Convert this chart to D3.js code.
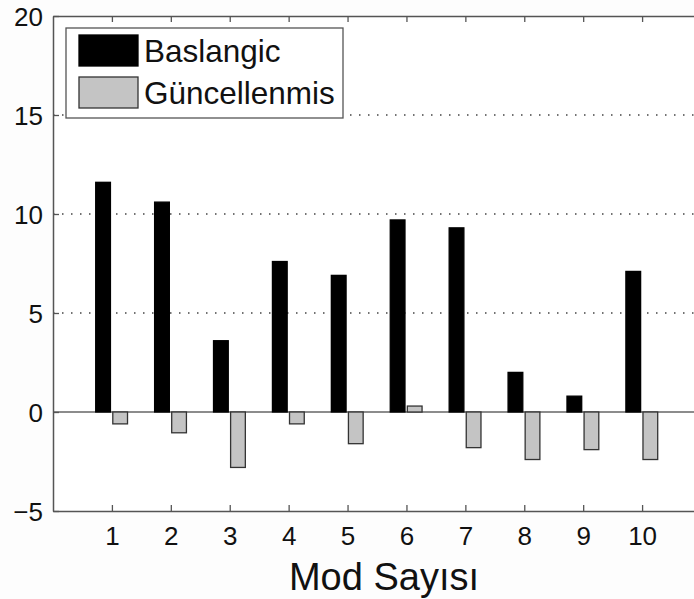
<!DOCTYPE html>
<html>
<head>
<meta charset="utf-8">
<script src="https://cdn.jsdelivr.net/npm/d3@7"></script>
<style>
  body { margin: 0; background: #fdfdfd; }
  text { font-family: "Liberation Sans", Arial, sans-serif; fill: #111; }
</style>
</head>
<body>
<script>
const modes = [1, 2, 3, 4, 5, 6, 7, 8, 9, 10]
const baslangic = [11.6, 10.6, 3.6, 7.6, 6.9, 9.7, 9.3, 2.0, 0.8, 7.1]
const guncellenmis = [-0.6, -1.05, -2.8, -0.6, -1.6, 0.3, -1.8, -2.4, -1.9, -2.4]
const yTicks = [-5, 0, 5, 10, 15, 20]
const gridTicks = [5, 10, 15]
const seriesNames = ["Baslangic", "Güncellenmis"]

const WIDTH = 694
const HEIGHT = 599
const AXIS = "#555"

const svg = d3.select("body")
    .append("svg")
    .attr("width", WIDTH)
    .attr("height", HEIGHT)

const x = d3.scaleLinear().domain([0, 11]).range([53, 701])
const y = d3.scaleLinear().domain([-5, 20]).range([511, 16])

// plot background
svg.append("rect")
    .attr("x", x(0)).attr("y", y(20))
    .attr("width", x(11) - x(0)).attr("height", y(-5) - y(20))
    .attr("fill", "#fff")

// dotted grid
svg.selectAll(".grid")
    .data(gridTicks)
    .enter()
    .append("line")
    .attr("x1", x(0)).attr("x2", x(11))
    .attr("y1", d => y(d)).attr("y2", d => y(d))
    .attr("stroke", "#444")
    .attr("stroke-width", 1.3)
    .attr("stroke-dasharray", "1.5,7.5")

// zero line
svg.append("line")
    .attr("x1", x(0)).attr("x2", x(11))
    .attr("y1", y(0)).attr("y2", y(0))
    .attr("stroke", "#666")
    .attr("stroke-width", 1.3)

const barW = x(0.25) - x(0)
const series = [
    { values: baslangic, offset: -0.15, fill: "#000", stroke: "#000" },
    { values: guncellenmis, offset: 0.14, fill: "#c4c4c4", stroke: "#333" }
]

series.forEach(s => {
    svg.append("g")
        .selectAll("rect")
        .data(modes)
        .enter()
        .append("rect")
        .attr("x", (d, i) => x(d + s.offset) - barW / 2)
        .attr("y", (d, i) => y(Math.max(0, s.values[i])))
        .attr("width", barW)
        .attr("height", (d, i) => Math.abs(y(s.values[i]) - y(0)))
        .attr("fill", s.fill)
        .attr("stroke", s.stroke)
        .attr("stroke-width", 1.3)
})

// axes box
const leftAxis = d3.axisLeft(y).tickValues(yTicks).tickSizeInner(-6).tickSizeOuter(0)
    .tickPadding(10).tickFormat(d => d < 0 ? "\u2212" + Math.abs(d) : d)
const bottomAxis = d3.axisBottom(x).tickValues(modes).tickSizeInner(-6).tickSizeOuter(0).tickPadding(14)
const topAxis = d3.axisTop(x).tickValues(modes).tickSizeInner(-6).tickSizeOuter(0).tickFormat("")

const gl = svg.append("g").attr("transform", `translate(${x(0)},0)`).call(leftAxis)
const gb = svg.append("g").attr("transform", `translate(0,${y(-5)})`).call(bottomAxis)
const gt = svg.append("g").attr("transform", `translate(0,${y(20)})`).call(topAxis)

;[gl, gb, gt].forEach(g => {
    g.select(".domain").attr("stroke", AXIS).attr("stroke-width", 1.5)
    g.selectAll(".tick line").attr("stroke", AXIS).attr("stroke-width", 1.3)
    g.selectAll("text")
        .attr("font-size", 26)
        .attr("font-family", "Liberation Sans, Arial, sans-serif")
        .attr("fill", "#111")
})
gl.selectAll("text").attr("dy", "0.36em")
gb.selectAll("text").attr("dy", "0.75em")

// x label
svg.append("text")
    .attr("x", 384)
    .attr("y", 590)
    .attr("text-anchor", "middle")
    .attr("font-size", 38)
    .text("Mod Sayısı")

// legend
const legend = svg.append("g")
legend.append("rect")
    .attr("x", 66).attr("y", 28)
    .attr("width", 277).attr("height", 90)
    .attr("fill", "#fff")
    .attr("stroke", AXIS)
    .attr("stroke-width", 1.3)

legend.selectAll(".sw")
    .data(seriesNames)
    .enter()
    .append("rect")
    .attr("x", 79)
    .attr("y", (_, i) => 35 + i * 42)
    .attr("width", 59)
    .attr("height", 31)
    .attr("fill", (_, i) => series[i].fill)
    .attr("stroke", (_, i) => series[i].stroke)
    .attr("stroke-width", 1.3)

legend.selectAll(".lbl")
    .data(seriesNames)
    .enter()
    .append("text")
    .attr("x", 144)
    .attr("y", (_, i) => 62 + i * 42)
    .attr("font-size", 31.5)
    .text(d => d)
</script>
</body>
</html>
